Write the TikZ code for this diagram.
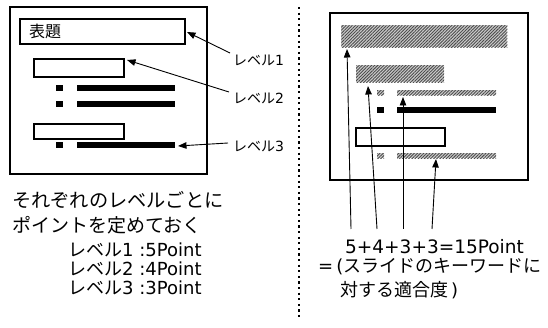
\documentclass[tikz,border=0pt]{standalone}
\usepackage{fontspec}
\setmainfont{DejaVu Sans}
\newfontfamily\jp{Noto Sans CJK JP}
\usetikzlibrary{arrows.meta,patterns.meta}
\tikzset{
  bar/.style={fill=black,inner sep=0},
  hatch/.style={inner sep=0,preaction={fill=gray!40},pattern={Lines[angle=45,distance=2.2pt,line width=0.9pt]},pattern color=black!70},
  arr/.style={line width=0.9pt,-{Triangle[length=8.5pt,width=6.5pt]}},
  txt/.style={inner sep=0,font=\fontsize{18}{18}\selectfont},
  lab/.style={inner sep=0,font=\fontsize{14}{14}\selectfont},
}
\begin{document}
\begin{tikzpicture}[x=1pt,y=-1pt]
\useasboundingbox (0,0) rectangle (548,328);
% left panel
\node[draw,line width=2.4pt,inner sep=0,anchor=north west,minimum width=197pt,minimum height=167pt] (lframe) at (9,6) {};
\node[draw,line width=2.4pt,inner sep=0,anchor=north west,minimum width=165pt,minimum height=25pt] (title) at (19,18) {};
\node[inner sep=0,anchor=west,font=\fontsize{16}{16}\selectfont\jp] (titletxt) at (29,31) {表題};
\node[draw,line width=2pt,inner sep=0,anchor=north west,minimum width=90pt,minimum height=18pt] (l2box) at (33,58) {};
\node[bar,anchor=north west,minimum width=7pt,minimum height=6pt] (sq1) at (56,85) {};
\node[bar,anchor=north west,minimum width=98pt,minimum height=5.5pt] (bar1) at (77,85) {};
\node[bar,anchor=north west,minimum width=7pt,minimum height=6pt] (sq2) at (56,101) {};
\node[bar,anchor=north west,minimum width=98pt,minimum height=5.5pt] (bar2) at (77,101) {};
\node[draw,line width=2pt,inner sep=0,anchor=north west,minimum width=90pt,minimum height=15pt] (l3box) at (33,123) {};
\node[bar,anchor=north west,minimum width=7pt,minimum height=6pt] (sq3) at (56,142) {};
\node[bar,anchor=north west,minimum width=98pt,minimum height=5.5pt] (bar3) at (77,142) {};
% labels
\node[lab,anchor=west] (lab1) at (233,60) {{\jp レベル}1};
\node[lab,anchor=west] (lab2) at (233,98) {{\jp レベル}2};
\node[lab,anchor=west] (lab3) at (233,146) {{\jp レベル}3};
\coordinate (s1) at (230,53);
\coordinate (s2) at (229,92);
\coordinate (s3) at (228,143);
\coordinate (e1) at (187,32);
\coordinate (e2) at (127,60);
\coordinate (e3) at (178,146);
\draw[arr] (s1) -- (e1);
\draw[arr] (s2) -- (e2);
\draw[arr] (s3) -- (e3);
% left text
\node[txt,anchor=west,font=\fontsize{19.2}{19}\selectfont\jp] (t1) at (12,200) {それぞれのレベルごとに};
\node[txt,anchor=west,font=\fontsize{19}{19}\selectfont\jp] (t2) at (12,225) {ポイントを定めておく};
\node[txt,anchor=west] (p1) at (68,250) {{\jp レベル}1 :5Point};
\node[txt,anchor=west] (p2) at (68,269) {{\jp レベル}2 :4Point};
\node[txt,anchor=west] (p3) at (68,288) {{\jp レベル}3 :3Point};
% divider
\coordinate (dtop) at (299,7);
\coordinate (dbot) at (299,317);
\draw[line width=2.2pt,dash pattern=on 2.2pt off 3.4pt] (dtop) -- (dbot);
% right panel
\node[draw,line width=2.4pt,inner sep=0,anchor=north west,minimum width=198pt,minimum height=167pt] (rframe) at (329,12) {};
\node[hatch,anchor=north west,minimum width=166pt,minimum height=22pt] (h1) at (341,25) {};
\node[hatch,anchor=north west,minimum width=88pt,minimum height=17pt] (h2) at (356,65) {};
\node[hatch,anchor=north west,minimum width=7pt,minimum height=5pt] (hs1) at (377,90) {};
\node[hatch,anchor=north west,minimum width=99pt,minimum height=5pt] (hl1) at (397,90) {};
\node[bar,anchor=north west,minimum width=7pt,minimum height=5.5pt] (bs) at (377,107) {};
\node[bar,anchor=north west,minimum width=99pt,minimum height=5.5pt] (bl) at (397,107) {};
\node[draw,line width=2pt,inner sep=0,anchor=north west,minimum width=89pt,minimum height=18pt] (rbox) at (355,127) {};
\node[hatch,anchor=north west,minimum width=7pt,minimum height=5pt] (hs2) at (377,153) {};
\node[hatch,anchor=north west,minimum width=99pt,minimum height=5pt] (hl2) at (397,153) {};
% arrows up
\coordinate (u1) at (351,229);
\coordinate (u2) at (377,229);
\coordinate (u3) at (403,229);
\coordinate (u4) at (432,229);
\coordinate (v1) at (347,49);
\coordinate (v2) at (368,86);
\coordinate (v3) at (403,97);
\coordinate (v4) at (436,159);
\draw[arr] (u1) -- (v1);
\draw[arr] (u2) -- (v2);
\draw[arr] (u3) -- (v3);
\draw[arr] (u4) -- (v4);
% right text
\node[txt,anchor=west,font=\fontsize{18.5}{18}\selectfont] (sum) at (345,247) {5+4+3+3=15Point};
\node[txt,anchor=west] (r2) at (318,267) {=\,({\jp スライドのキーワードに}};
\node[txt,anchor=west] (r3) at (340,290) {{\jp 対する適合度}\,)};
\end{tikzpicture}
\end{document}
